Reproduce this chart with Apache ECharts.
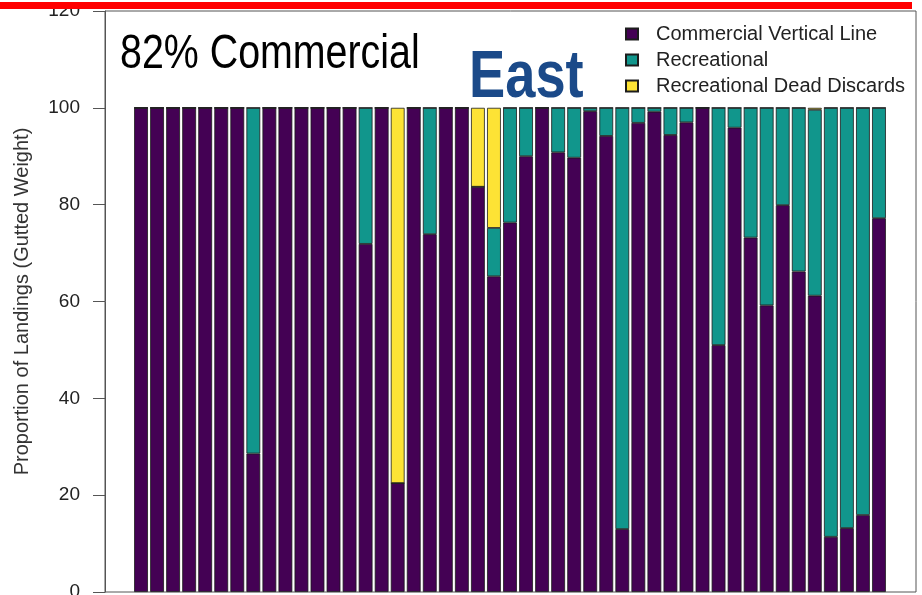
<!DOCTYPE html>
<html>
<head>
<meta charset="utf-8">
<script src="https://cdn.jsdelivr.net/npm/echarts@6/dist/echarts.min.js"></script>
<style>
html,body{margin:0;padding:0;background:#fff;}
#chart{width:922px;height:595px;}
</style>
</head>
<body>
<div id="chart"></div>
<script>
var categories = ['1','2','3','4','5','6','7','8','9','10','11','12','13','14','15','16','17','18','19','20','21','22','23','24','25','26','27','28','29','30','31','32','33','34','35','36','37','38','39','40','41','42','43','44','45','46','47'];
var commercial = [100,100,100,100,100,100,100,28.6,100,100,100,100,100,100,71.9,100,22.5,100,73.9,100,100,83.7,65.2,76.3,90.0,100,90.8,89.7,99.3,94.2,13.0,96.9,99.2,94.4,97.0,100,51.0,95.9,73.2,59.2,79.9,66.2,61.2,11.4,13.2,15.9,77.2];
var recreational = [0,0,0,0,0,0,0,71.4,0,0,0,0,0,0,28.1,0,0,0,26.1,0,0,0,10.0,23.7,10.0,0,9.2,10.3,0.7,5.8,87.0,3.1,0.8,5.6,3.0,0,49.0,4.1,26.8,40.8,20.1,33.8,38.4,88.6,86.8,84.1,22.8];
var deadDiscards = [0,0,0,0,0,0,0,0,0,0,0,0,0,0,0,0,77.5,0,0,0,0,16.3,24.8,0,0,0,0,0,0,0,0,0,0,0,0,0,0,0,0,0,0,0,0.4,0,0,0,0];
var yTicks = [0,20,40,60,80,100,120];

var FONT = '"Liberation Sans", Arial, Helvetica, sans-serif';
var chart = echarts.init(document.getElementById('chart'), null, {renderer:'canvas'});
var barStyle = function(c){ return {color:c, borderColor:'#1c1c1c', borderWidth:0.8}; };
chart.setOption({
  animation:false,
  backgroundColor:'#ffffff',
  grid:[
    {left:105, right:6, top:11, bottom:3, show:true, borderColor:'#555', borderWidth:1, backgroundColor:'transparent', outerBoundsMode:'none', containLabel:false},
    {left:133, right:35, top:11, bottom:3, outerBoundsMode:'none', containLabel:false}
  ],
  xAxis:[
    {gridIndex:0, type:'value', min:0, max:1, show:false},
    {gridIndex:1, type:'category', data:categories, show:false, boundaryGap:true}
  ],
  yAxis:[
    {gridIndex:0, type:'value', min:yTicks[0], max:yTicks[yTicks.length-1], interval:20,
     name:'Proportion of Landings (Gutted Weight)', nameLocation:'middle', nameGap:73,
     nameTextStyle:{fontFamily:FONT, fontSize:20, color:'#333'},
     axisLine:{show:true, lineStyle:{color:'#555', width:1}},
     axisTick:{show:true, length:12, lineStyle:{color:'#555', width:1}},
     axisLabel:{margin:25, fontFamily:FONT, fontSize:19, color:'#222'},
     splitLine:{show:false}},
    {gridIndex:1, type:'value', min:0, max:120, show:false, splitLine:{show:false}}
  ],
  legend:{
    orient:'vertical', left:620, top:19, itemWidth:12, itemHeight:11, itemGap:6,
    icon:'rect', textStyle:{fontFamily:FONT, fontSize:20, color:'#222', padding:[0,0,0,13]},
    data:['Commercial Vertical Line','Recreational','Recreational Dead Discards']
  },
  series:[
    {name:'Commercial Vertical Line', type:'bar', stack:'s', xAxisIndex:1, yAxisIndex:1, barWidth:'86%', data:commercial, itemStyle:barStyle('#440154')},
    {name:'Recreational', type:'bar', stack:'s', xAxisIndex:1, yAxisIndex:1, barWidth:'86%', data:recreational, itemStyle:barStyle('#11968c')},
    {name:'Recreational Dead Discards', type:'bar', stack:'s', xAxisIndex:1, yAxisIndex:1, barWidth:'86%', data:deadDiscards, itemStyle:barStyle('#fde335')}
  ],
  graphic:[
    {type:'text', x:120, y:31, scaleX:0.82, scaleY:1, originX:0, originY:0, z:10,
     style:{text:'82% Commercial', font:'48px '+FONT, fill:'#000', verticalAlign:'top', align:'left'}},
    {type:'text', x:469, y:45, scaleX:0.81, scaleY:1, originX:0, originY:0, z:10,
     style:{text:'East', font:'bold 67px '+FONT, fill:'#1b4a89', verticalAlign:'top', align:'left'}},
    {type:'rect', shape:{x:0, y:2, width:912, height:7}, style:{fill:'#ff0000'}, z:20}
  ]
});
</script>
</body>
</html>
